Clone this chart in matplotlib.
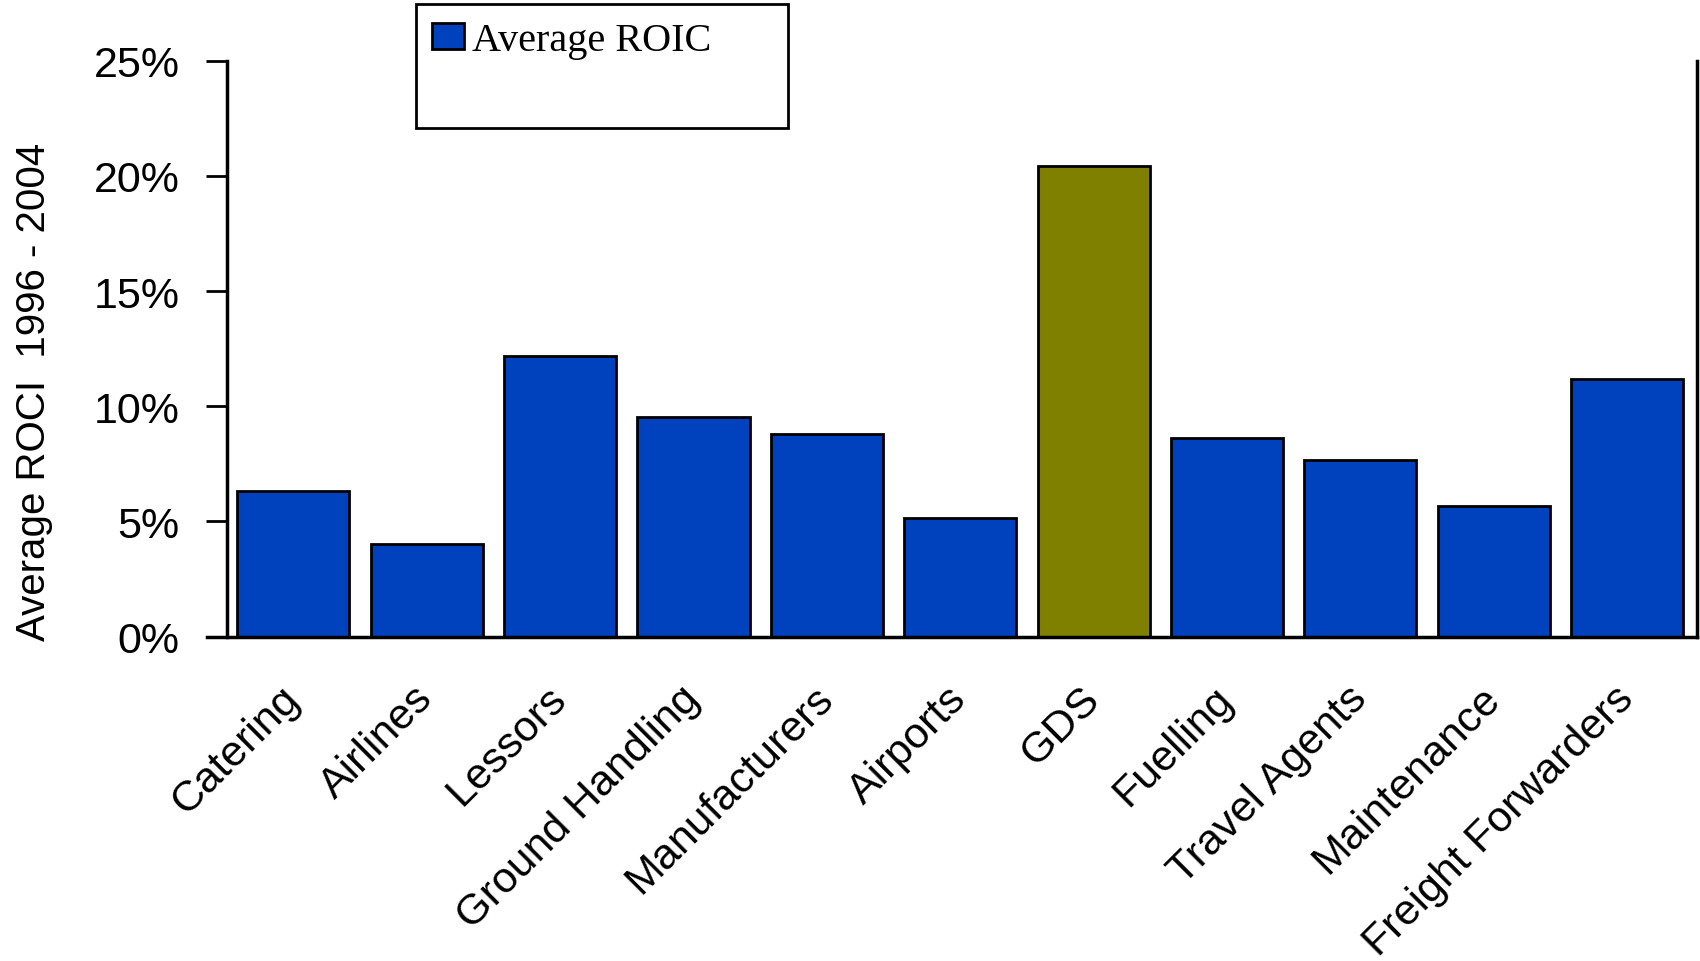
import matplotlib.pyplot as plt
from matplotlib.patches import Rectangle, Patch
from matplotlib.ticker import FuncFormatter

categories = ["Catering", "Airlines", "Lessors", "Ground Handling", "Manufacturers",
              "Airports", "GDS", "Fuelling", "Travel Agents", "Maintenance",
              "Freight Forwarders"]
roic = [6.3, 4.0, 12.2, 9.55, 8.8, 5.15, 20.45, 8.6, 7.65, 5.65, 11.2]
highlight = "GDS"

blue = "#0041BE"
olive = "#808000"

plt.rcParams['font.family'] = ['Liberation Sans', 'DejaVu Sans']

fig = plt.figure(figsize=(17, 9.62), dpi=100)
ax = fig.add_axes([0.1333, 0.3373, 0.8647, 0.5985])

colors = [olive if c == highlight else blue for c in categories]
x = list(range(len(categories)))
ax.bar(x, roic, width=0.84, color=colors, edgecolor='black', linewidth=2, zorder=2)

ax.set_xlim(-0.5, 10.52)
ax.set_ylim(0, 25)
ax.set_yticks([0, 5, 10, 15, 20, 25])
ax.yaxis.set_major_formatter(FuncFormatter(lambda v, p: f"{v:.0f}%"))
ax.tick_params(axis='y', direction='out', length=15, width=2, labelsize=31, pad=19)

ax.set_xticks(x)
ax.set_xticklabels(categories, rotation=45, ha='right', va='center',
                   rotation_mode='anchor', fontsize=31)
ax.tick_params(axis='x', length=0, pad=40)

ax.spines['top'].set_visible(False)
for s in ['left', 'right', 'bottom']:
    ax.spines[s].set_linewidth(2.5)
ax.spines['bottom'].set_bounds(-0.65, 10.52)

ax.set_ylabel("Average ROCI  1996 - 2004", fontsize=29)
ax.yaxis.set_label_coords(-0.118, 0.427)

# legend box drawn larger than its content, like the original
fig.patches.append(Rectangle((0.2447, 0.8659), 0.2188, 0.1285, transform=fig.transFigure,
                             facecolor='white', edgecolor='black', linewidth=2, zorder=5))
leg = fig.legend(handles=[Patch(facecolor=blue, edgecolor='black', linewidth=2,
                                label="Average ROIC")],
                 loc='upper left', bbox_to_anchor=(0.2515, 0.98), frameon=False,
                 prop={'family': 'Liberation Serif', 'size': 29},
                 handlelength=0.8, handleheight=0.6, handletextpad=0.2,
                 borderaxespad=0, borderpad=0.1)
leg.set_zorder(6)

fig.savefig("out.png", dpi=100)
